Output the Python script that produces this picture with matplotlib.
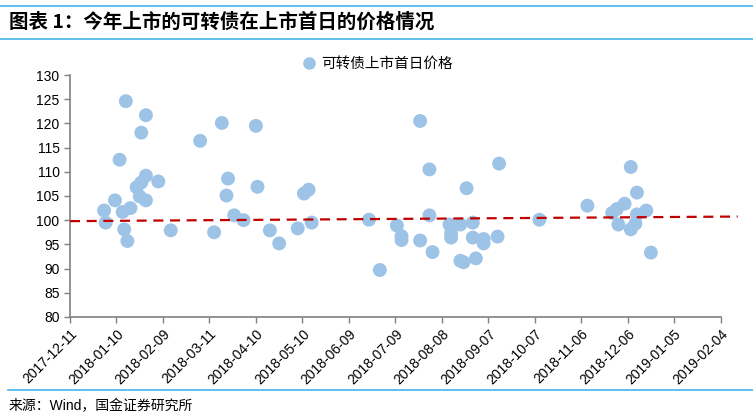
import pandas as pd
import numpy as np
import matplotlib
matplotlib.use("Agg")
import matplotlib.pyplot as plt
import matplotlib.dates as mdates
from matplotlib.lines import Line2D

plt.rcParams['font.family'] = ['Liberation Sans', 'Noto Sans CJK SC', 'DejaVu Sans']

# 上市日期与首日价格
list_dates = [
    "2018-01-02", "2018-01-03", "2018-01-09", "2018-01-12", "2018-01-16", "2018-01-15",
    "2018-01-17", "2018-01-14", "2018-01-19", "2018-01-23", "2018-01-26", "2018-01-29",
    "2018-01-25", "2018-01-26", "2018-01-29", "2018-01-29", "2018-02-06", "2018-02-14",
    "2018-03-05", "2018-03-14", "2018-03-19", "2018-03-23", "2018-03-22", "2018-03-27",
    "2018-04-02", "2018-04-10", "2018-04-11", "2018-04-19", "2018-04-25", "2018-05-07",
    "2018-05-11", "2018-05-14", "2018-05-16", "2018-06-22", "2018-06-29", "2018-07-10",
    "2018-07-13", "2018-07-13", "2018-07-25", "2018-07-25", "2018-07-31", "2018-07-31",
    "2018-08-02", "2018-08-13", "2018-08-14", "2018-08-14", "2018-08-20", "2018-08-20",
    "2018-08-22", "2018-08-24", "2018-08-28", "2018-08-28", "2018-08-30", "2018-09-04",
    "2018-09-04", "2018-09-13", "2018-09-14", "2018-10-10", "2018-11-10", "2018-11-26",
    "2018-11-29", "2018-12-04", "2018-11-30", "2018-12-08", "2018-12-12", "2018-12-12",
    "2018-12-11", "2018-12-08", "2018-12-18", "2018-12-21",
]
first_day_price = [
    102.0, 99.5, 104.1, 112.5, 124.6, 98.1,
    95.7, 101.7, 102.5, 106.8, 118.1, 121.7,
    104.9, 107.8, 109.2, 104.1, 108.0, 97.9,
    116.4, 97.5, 120.1, 108.6, 105.1, 101.0,
    100.0, 119.5, 106.9, 97.9, 95.2, 98.3,
    105.5, 106.3, 99.5, 100.1, 89.7, 98.9,
    96.7, 95.9, 120.5, 95.8, 110.5, 101.0,
    93.4, 99.1, 97.3, 96.4, 99.1, 91.6,
    91.3, 106.6, 99.5, 96.4, 92.1, 96.1,
    95.2, 96.6, 111.7, 100.1, 103.0, 101.5,
    102.3, 103.4, 99.1, 111.0, 105.7, 101.2,
    99.3, 98.1, 102.0, 93.3,
]

# 趋势线两端
trend_dates = ["2017-12-11", "2019-02-15"]
trend_values = [99.8, 100.75]

tick_start = "2017-12-11"
tick_end = "2019-02-04"

df = pd.DataFrame({"date": pd.to_datetime(list_dates), "price": first_day_price})
ticks = pd.date_range(tick_start, tick_end, freq="30D")

fig = plt.figure(figsize=(7.53, 4.17), dpi=100)
ax = fig.add_axes([0.093, 0.24, 0.864, 0.58])

ax.scatter(df["date"], df["price"], s=100, color="#9DC3E6", edgecolors="none", zorder=2)
ax.plot(pd.to_datetime(trend_dates), trend_values, color="#C00000", lw=1.6,
        dashes=(4.5, 3), zorder=3, clip_on=False)

ax.set_xlim(ticks[0], ticks[-1])
ax.set_ylim(80, 130)
ax.set_yticks(np.arange(80, 131, 5))
ax.set_xticks(ticks)
ax.xaxis.set_major_formatter(mdates.DateFormatter("%Y-%m-%d"))
plt.setp(ax.get_xticklabels(), rotation=45, ha="right", rotation_mode="anchor")
ax.tick_params(axis="both", labelsize=10, color="#808080", length=4, width=1)
ax.tick_params(axis="x", pad=3)

for s in ["top", "right"]:
    ax.spines[s].set_visible(False)
for s in ["left", "bottom"]:
    ax.spines[s].set_color("#808080")
    ax.spines[s].set_linewidth(1.2)

handle = Line2D([], [], marker="o", ls="none", color="#9DC3E6", markersize=8)
fig.legend([handle], ["可转债上市首日价格"], loc="center", bbox_to_anchor=(0.5, 0.847),
           frameon=False, fontsize=10.5, handletextpad=0.2, handlelength=1.2)

# 标题与来源
fig.add_artist(Line2D([0.0, 1.0], [0.985, 0.985], color="#41B6E6", lw=1.2))
fig.add_artist(Line2D([0.0, 1.0], [0.907, 0.907], color="#41B6E6", lw=1.2))
fig.text(0.012, 0.947, "图表 1：今年上市的可转债在上市首日的价格情况", fontsize=14,
         fontweight="bold", style="italic", va="center", family=["Noto Sans CJK SC", "DejaVu Sans"])
fig.add_artist(Line2D([0.01, 1.0], [0.065, 0.065], color="#41B6E6", lw=1.2))
fig.text(0.011, 0.025, "来源：Wind，国金证券研究所", fontsize=10, va="center")

fig.savefig("out.png", dpi=100)
